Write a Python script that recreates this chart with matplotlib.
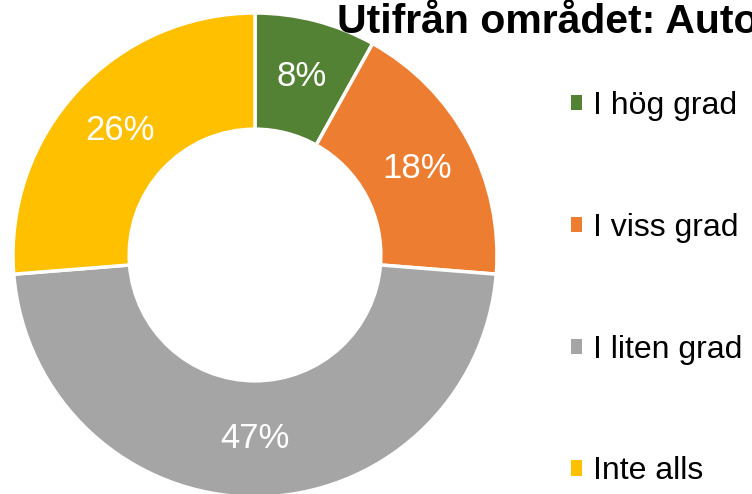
import matplotlib.pyplot as plt

plt.rcParams['font.family'] = ['Liberation Sans', 'DejaVu Sans']

# data
labels = ['I hög grad', 'I viss grad', 'I liten grad', 'Inte alls']
values = [8, 18, 47, 26]
colors = ['#548235', '#ED7D31', '#A5A5A5', '#FFC000']
title = 'Utifrån området: Auto'

W, H = 752, 494
fig = plt.figure(figsize=(W / 100, H / 100), dpi=100)

# donut axes: centre (255, 255) px, outer radius 242 px
cx, cy, r = 255, 255, 242
ax = fig.add_axes([(cx - r) / W, (H - cy - r) / H, 2 * r / W, 2 * r / H])

wedges, texts, autotexts = ax.pie(
    values, colors=colors, startangle=90, counterclock=False,
    radius=1, autopct='%1.0f%%', pctdistance=0.76,
    wedgeprops=dict(width=0.48, edgecolor='white', linewidth=2.5),
    textprops=dict(color='white', fontsize=25))
for t, v in zip(autotexts, values):
    t.set_text(f'{v}%')
ax.set_xlim(-1, 1)
ax.set_ylim(-1, 1)
ax.set_aspect('equal')
ax.axis('off')

fig.text(337 / W, 1 - 33 / H, title, ha='left', va='baseline',
         fontsize=29.5, fontweight='bold')

# legend
leg = fig.legend(wedges, labels, loc='upper left',
                 bbox_to_anchor=(555 / W, 1 - 75 / H),
                 frameon=False, fontsize=23, handlelength=0.35,
                 handleheight=0.35, handletextpad=0.35, labelspacing=2.875,
                 borderpad=0)
for h in leg.legend_handles:
    h.set_edgecolor('none')

fig.savefig('out.png', dpi=100)
